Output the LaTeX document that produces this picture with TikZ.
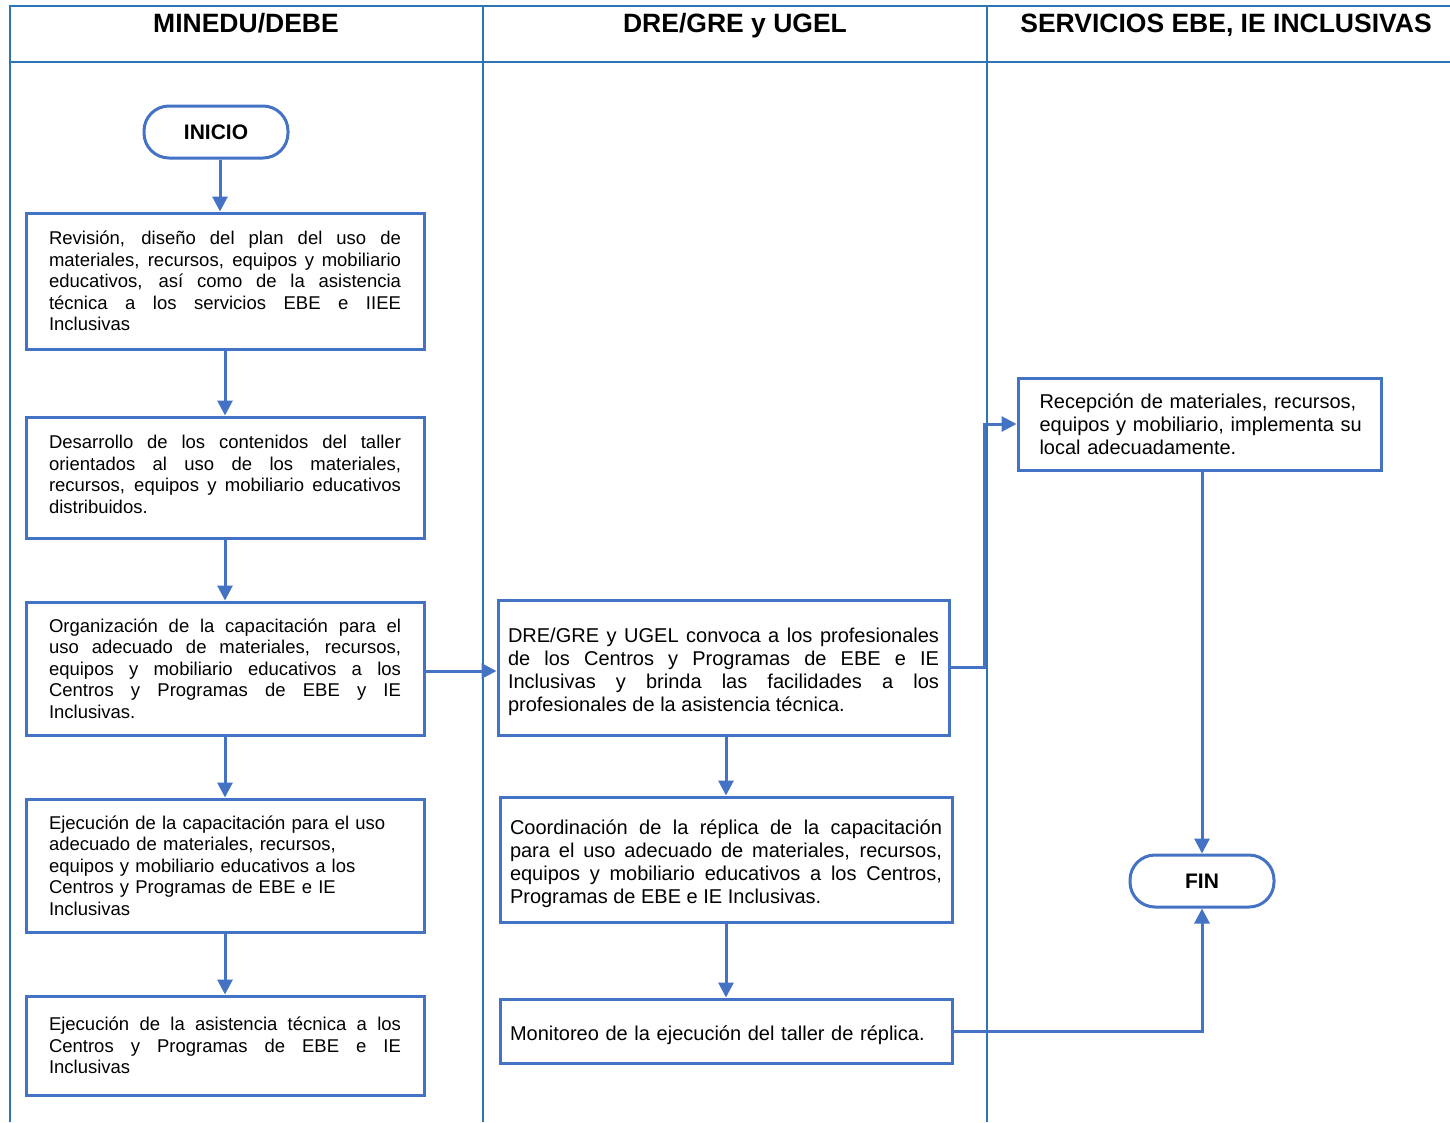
\documentclass[tikz,border=0pt]{standalone}
\usepackage{fontspec}
\setmainfont{Liberation Sans}
\usetikzlibrary{arrows.meta}
\definecolor{lanecol}{RGB}{46,117,182}
\definecolor{boxblue}{RGB}{68,114,196}
\hyphenpenalty=10000
\exhyphenpenalty=10000
\tolerance=9999
\emergencystretch=20pt
\begin{document}
\begin{tikzpicture}[x=1pt,y=-1pt,
  laneline/.style={draw=lanecol, line width=2pt},
  hdr/.style={font=\fontsize{26.5}{30}\selectfont\bfseries, anchor=base, inner sep=0pt},
  procbox/.style={draw=boxblue, line width=3pt, fill=white, inner sep=0pt,
    font=\fontsize{18.5}{21.5}\selectfont, align=justify, text width=352pt,
    minimum width=398pt},
  midbox/.style={procbox, font=\fontsize{20}{23}\selectfont, text width=431pt},
  lower/.style={execute at begin node={\rule{0pt}{#1}}},
  raise/.style={execute at end node={\endgraf\vspace*{#1}}},
  term/.style={draw=boxblue, line width=3pt, fill=white, rounded corners=25pt,
    minimum width=144pt, minimum height=52pt, inner sep=0pt,
    font=\fontsize{21}{24}\selectfont\bfseries},
  arr/.style={draw=boxblue, line width=3pt, -{Triangle[length=15pt,width=15pt]}}
]
\useasboundingbox (0,0) rectangle (1450,1122);
% swimlane table
\draw[laneline] (10,1122) -- (10,6) -- (1450,6);
\draw[laneline] (10,62) -- (1450,62);
\draw[laneline] (483,6) -- (483,1122);
\draw[laneline] (987,6) -- (987,1122);
\node[hdr] (h1) at (246,32) {MINEDU/DEBE};
\node[hdr] (h2) at (735,32) {DRE/GRE y UGEL};
\node[hdr] (h3) at (1226,32) {SERVICIOS EBE, IE INCLUSIVAS};

% left column
\node[term] (inicio) at (216,132) {INICIO};
\node[procbox, minimum height=136pt] (b1) at (225,281) {Revisión, diseño del plan del uso de\linebreak materiales, recursos, equipos y mobiliario\linebreak educativos, así como de la asistencia\linebreak técnica a los servicios EBE e IIEE\linebreak Inclusivas};
\node[procbox, minimum height=121pt, raise=6pt] (b2) at (225,477.5) {Desarrollo de los contenidos del taller\linebreak orientados al uso de los materiales,\linebreak recursos, equipos y mobiliario educativos\linebreak distribuidos.};
\node[procbox, minimum height=133pt] (b3) at (225,668.5) {Organización de la capacitación para el\linebreak uso adecuado de materiales, recursos,\linebreak equipos y mobiliario educativos a los\linebreak Centros y Programas de EBE y IE\linebreak Inclusivas.};
\node[procbox, minimum height=133pt, align=left] (b4) at (225,865.5) {Ejecución de la capacitación para el uso\\ adecuado de materiales, recursos,\\ equipos y mobiliario educativos a los\\ Centros y Programas de EBE e IE\\ Inclusivas};
\node[procbox, minimum height=99pt] (b5) at (225,1045.5) {Ejecución de la asistencia técnica a los\linebreak Centros y Programas de EBE e IE\linebreak Inclusivas};

% middle column
\node[midbox, minimum width=451pt, minimum height=135pt, lower=22.5pt] (m1) at (723.5,667.5) {DRE/GRE y UGEL convoca a los profesionales\linebreak de los Centros y Programas de EBE e IE\linebreak Inclusivas y brinda las facilidades a los\linebreak profesionales de la asistencia técnica.};
\node[midbox, text width=432pt, minimum width=452pt, minimum height=125pt, lower=22.5pt] (m2) at (726,859.5) {Coordinación de la réplica de la capacitación\linebreak para el uso adecuado de materiales, recursos,\linebreak equipos y mobiliario educativos a los Centros,\linebreak Programas de EBE e IE Inclusivas.};
\node[midbox, text width=432pt, minimum width=452pt, minimum height=64pt, align=left, lower=22.5pt] (m3) at (726,1031) {Monitoreo de la ejecución del taller de réplica.};

% right column
\node[midbox, text width=320pt, minimum width=363pt, minimum height=92pt, align=left] (r1) at (1199.5,424) {\mbox{Recepción de materiales, recursos,}\\ \mbox{equipos y mobiliario, implementa su}\\ \mbox{local adecuadamente.}};
\node[term] (fin) at (1202,881) {FIN};

% connectors
\draw[arr] ([xshift=4pt]inicio.south) -- ([xshift=-5pt]b1.north);
\draw[arr] (b1.south) -- (b2.north);
\draw[arr] (b2.south) -- (b3.north);
\draw[arr] (b3.south) -- (b4.north);
\draw[arr] (b4.south) -- (b5.north);
\draw[arr] ([yshift=-2.5pt]b3.east) -- ([yshift=-2.5pt]b3.east -| m1.west);
\draw[arr] (m1.south -| m2.north) -- (m2.north);
\draw[arr] (m2.south) -- (m3.north);
\draw[arr] (m1.east) -- ++(34,0) |- (r1.west);
\draw[arr] (r1.south -| fin.north) -- (fin.north);
\draw[arr] (m3.east) -| (fin.south);
\end{tikzpicture}
\end{document}
